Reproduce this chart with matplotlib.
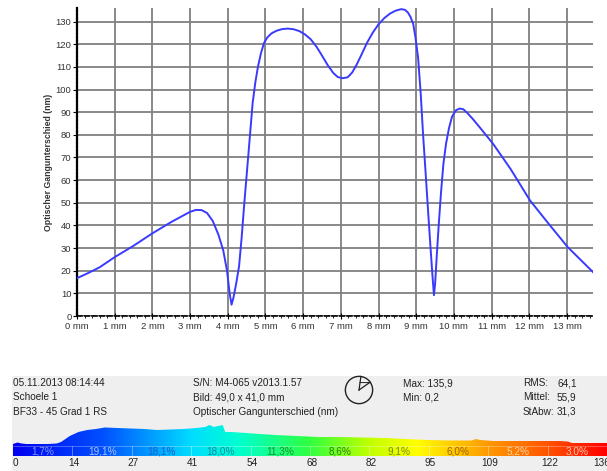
import numpy as np
import matplotlib
matplotlib.use('Agg')
import matplotlib.pyplot as plt
from matplotlib.colors import LinearSegmentedColormap
from matplotlib.patches import Circle

plt.rcParams['font.family'] = ['Liberation Sans', 'DejaVu Sans']

# profile data (mm, nm)
pos_mm = [0.0, 0.3, 0.6, 1.0, 1.5, 2.0, 2.5, 3.0, 3.15, 3.3, 3.45, 3.6, 3.75, 3.88, 3.98,
          4.05, 4.1, 4.15, 4.22, 4.3, 4.37, 4.43, 4.5, 4.58, 4.66, 4.73, 4.8, 4.88, 4.96,
          5.05, 5.16, 5.3, 5.45, 5.6, 5.75, 5.9, 6.05, 6.2, 6.35, 6.5, 6.65, 6.8, 6.92,
          7.05, 7.18, 7.3, 7.42, 7.55, 7.7, 7.85, 8.0, 8.15, 8.3, 8.45, 8.6, 8.7, 8.78,
          8.85, 8.92, 8.98, 9.05, 9.12, 9.18, 9.25, 9.32, 9.38, 9.43, 9.47, 9.5, 9.55,
          9.6, 9.66, 9.72, 9.79, 9.87, 9.95, 10.05, 10.15, 10.25, 10.37, 10.5, 10.7,
          11.04, 11.5, 12.02, 12.5, 13.02, 13.69]
gang_nm = [16.7, 19, 21.5, 26, 31, 36.5, 41.5, 46, 46.8, 46.8, 45.5, 42, 36, 29, 20,
           10, 5, 8, 14, 22, 35, 48, 62, 78, 94, 103, 110, 116, 120.5,
           123, 124.8, 126, 126.7, 126.9, 126.6, 125.8, 124.3, 122.2, 119, 115, 110.8, 107.3, 105.5,
           105, 105.4, 107.5, 111, 115.5, 120.8, 125.2, 128.8, 131.5, 133.5, 134.8, 135.5, 135.2, 134,
           132, 129, 123, 114, 98, 80.6, 63, 45, 30, 18, 9.2, 14, 28,
           41, 55, 67, 76, 83, 88, 90.8, 91.6, 91.3, 89.4, 87, 83,
           76, 65, 51, 41, 30.4, 19.4]
x_ticks = list(range(14))
x_labels = ['%d mm' % i for i in x_ticks]
y_ticks = list(range(0, 140, 10))

# histogram strip
hist_val = [0, 1, 2, 3, 8, 10, 11, 12, 13, 14, 15, 17, 19, 21, 24, 27, 30, 33, 36, 39, 42,
            44, 45, 46, 47, 48, 48.6, 50, 55, 60, 65, 70, 75, 80, 85, 90, 95, 100, 105, 106,
            107, 110, 115, 120, 125, 127, 128, 136]
hist_h = [2, 3.5, 2.5, 2, 2, 2.5, 4, 7, 10, 12, 14, 16, 17, 18.5, 18, 17.5, 17, 16, 16.5, 17, 18,
          19, 21, 19, 20, 21, 14, 14, 12.5, 11, 10, 9, 9, 8.5, 8, 7, 6, 5.5, 5.5, 7,
          6, 5, 5, 5, 5, 4.5, 3, 3]
bin_edges = [0, 13.6, 27.2, 40.8, 54.4, 68, 81.6, 95.2, 108.8, 122.4, 136]
edge_labels = ['0', '14', '27', '41', '54', '68', '82', '95', '109', '122', '136']
bin_pct = ['1,7%', '19,1%', '18,1%', '18,0%', '11,3%', '8,6%', '9,1%', '6,0%', '5,2%', '3,0%']
pct_colors = ['#7f9cff', '#a9c4ff', '#1e5fc8', '#128c9c', '#1c8f2c', '#2f7f10',
              '#7a8a00', '#9a6400', '#ffd6a8', '#ffc8b8']

info_left = ['05.11.2013 08:14:44', 'Schoele 1', 'BF33 - 45 Grad 1 RS']
info_mid = ['S/N: M4-065 v2013.1.57', 'Bild: 49,0 x 41,0 mm', 'Optischer Gangunterschied (nm)']
info_max = ['Max: 135,9', 'Min: 0,2']
info_stat = ['RMS:', 'Mittel:', 'StAbw:']
info_stat_val = ['64,1', '55,9', '31,3']

W, H = 607, 471
fig = plt.figure(figsize=(W / 100, H / 100), dpi=100)

# %% main profile
ax = fig.add_axes([77 / W, 1 - 316 / H, 516 / W, 308 / H])
ax.plot(pos_mm, gang_nm, color='#3a3aff', lw=1.4, zorder=3)
ax.set_xlim(0, 13.69)
ax.set_ylim(0, 136)
ax.set_xticks(x_ticks)
ax.set_xticklabels(x_labels)
ax.set_xticks(np.arange(0, 13.7, 0.2), minor=True)
ax.set_yticks(y_ticks)
ax.grid(True, color='#808080', lw=1.3)
ax.tick_params(axis='x', which='major', direction='inout', length=5, width=0.8,
               labelsize=6.8, labelcolor='#333333', pad=2)
ax.tick_params(axis='x', which='minor', direction='out', length=1.5, width=0.6)
ax.tick_params(axis='y', direction='out', length=3, width=0.8, labelsize=6.8,
               labelcolor='#333333', pad=1)
for s in ['top', 'right']:
    ax.spines[s].set_visible(False)
ax.spines['left'].set_linestyle((0, (1, 0.7)))
ax.spines['left'].set_linewidth(1.6)
ax.spines['bottom'].set_linestyle((0, (3, 1.5)))
ax.spines['bottom'].set_linewidth(1.2)
ax.set_ylabel('Optischer Gangunterschied (nm)', fontsize=6.3, fontweight='bold',
              color='#333333', labelpad=2)

# %% info panel
panel = fig.add_axes([12 / W, 0, (W - 12) / W, 95 / H])
panel.set_facecolor('#efefef')
panel.set_xticks([])
panel.set_yticks([])
for s in panel.spines.values():
    s.set_visible(False)

fs = 7.2
rows_y = [383, 397, 412]
for i, t in enumerate(info_left):
    fig.text(13 / W, 1 - rows_y[i] / H, t, fontsize=fs, va='center', color='#222222')
for i, t in enumerate(info_mid):
    fig.text(193 / W, 1 - rows_y[i] / H, t, fontsize=fs, va='center', color='#222222')
for i, t in enumerate(info_max):
    fig.text(403 / W, 1 - rows_y[i] / H, t, fontsize=fs, va='center', color='#222222')
for i, t in enumerate(info_stat):
    fig.text(523 / W, 1 - rows_y[i] / H, t, fontsize=fs, va='center', color='#222222')
    fig.text(557 / W, 1 - rows_y[i] / H, info_stat_val[i], fontsize=fs, va='center',
             color='#222222')

# pie icon
icon = fig.add_axes([344 / W, 1 - 405 / H, 30 / W, 30 / H])
icon.set_xlim(-1.1, 1.1)
icon.set_ylim(-1.1, 1.1)
icon.set_aspect('equal')
icon.axis('off')
icon.add_patch(Circle((0, 0), 1, fill=False, ec='#222222', lw=1.0))
for a in [82, 35]:
    icon.plot([0, np.cos(np.radians(a))], [0, np.sin(np.radians(a))], color='#222222', lw=0.9)
icon.plot([np.cos(np.radians(82)) * 0.55, np.cos(np.radians(35)) * 0.95],
          [np.sin(np.radians(82)) * 0.55, np.sin(np.radians(35)) * 0.95], color='#222222', lw=0.7)

# histogram + color bar
cmap = LinearSegmentedColormap.from_list('gang', [
    (0.0, '#0000f0'), (0.15, '#0050ff'), (0.3, '#00ddff'), (0.38, '#00ffd0'),
    (0.5, '#30ff40'), (0.6, '#c0ff00'), (0.68, '#ffff00'), (0.8, '#ff9a00'),
    (0.9, '#ff5500'), (1.0, '#ff0000')])
hx = fig.add_axes([13 / W, 1 - 456 / H, (W - 13) / W, 36 / H])
hx.set_xlim(0, 136)
hx.set_ylim(0, 36)
hx.axis('off')
poly = hx.fill_between(hist_val, 0, np.array(hist_h) + 10, color='none', lw=0)
grad = np.linspace(0, 1, 512).reshape(1, -1)
img = hx.imshow(grad, cmap=cmap, extent=[0, 136, 0, 36], aspect='auto', interpolation='bilinear')
img.set_clip_path(poly.get_paths()[0], transform=hx.transData)
hx.axhline(10, color='white', lw=0.5, alpha=0.4)
for e in bin_edges[1:-1]:
    hx.plot([e, e], [0, 10], color='white', lw=0.5, alpha=0.5)
for i, p in enumerate(bin_pct):
    c = (bin_edges[i] + bin_edges[i + 1]) / 2
    hx.text(c, 5, p, ha='center', va='center', fontsize=7.2, color=pct_colors[i])
for e, lab in zip(bin_edges, edge_labels):
    if e == 0:
        x_px, ha = 13, 'left'
    elif e == bin_edges[-1]:
        x_px, ha = 593, 'left'
    else:
        x_px, ha = 13 + e * 4.37 + 1.5, 'center'
    fig.text(x_px / W, 1 - 463 / H, lab, fontsize=fs, ha=ha, va='center', color='#222222')

fig.savefig('out.png', dpi=100)
